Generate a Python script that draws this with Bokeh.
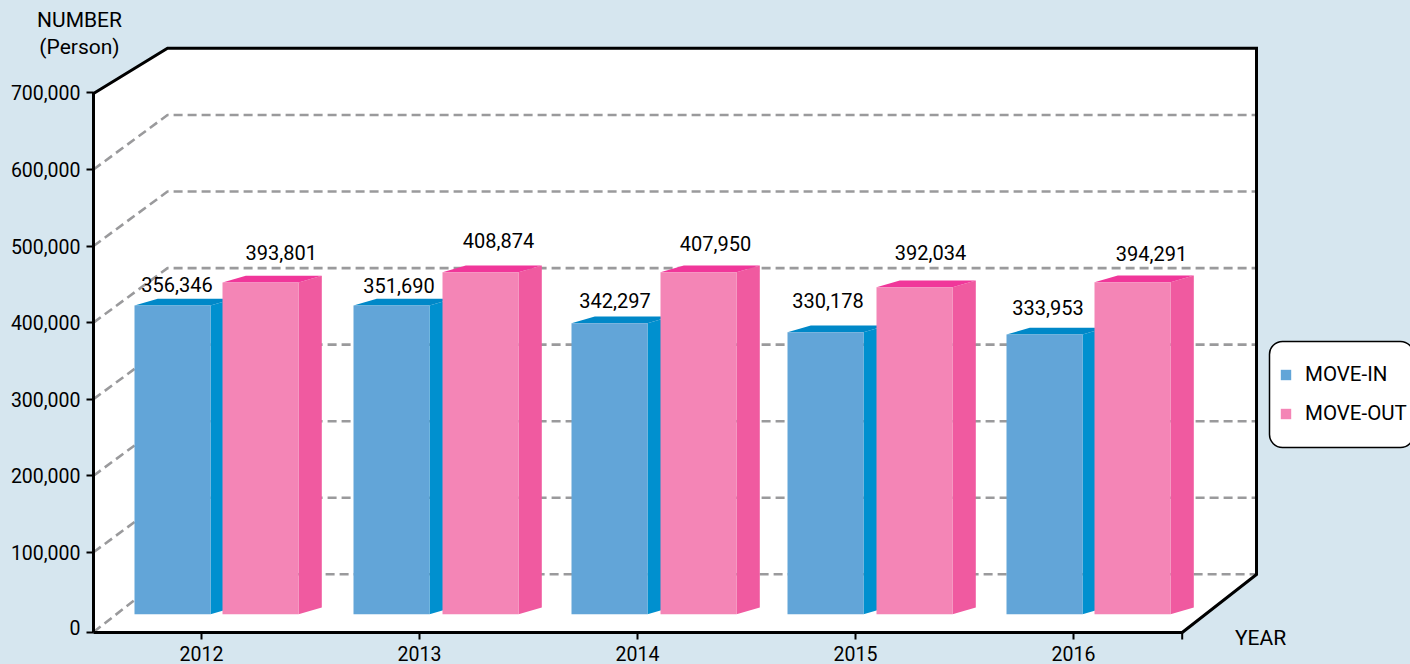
from bokeh.plotting import figure
from bokeh.embed import file_html
from bokeh.resources import INLINE
from bokeh.models import FixedTicker, NumeralTickFormatter, Label, BoxAnnotation, Legend, LegendItem, ColumnDataSource, Range1d
from bokeh.core.properties import value

# ---------- data ----------
years = [2012, 2013, 2014, 2015, 2016]
move_in = [356346, 351690, 342297, 330178, 333953]
move_out = [393801, 408874, 407950, 392034, 394291]
# the source drawing's bars do not follow its labels: heights as read against the axis
move_in_drawn = [422340, 422340, 399220, 387460, 384450]
move_out_drawn = [452380, 465840, 465840, 446240, 452780]
y_ticks = [0, 100000, 200000, 300000, 400000, 500000, 600000, 700000]

# ---------- style / layout ----------
W, H = 1410, 664
FONT = "Roboto"
BG = "#d6e6ef"
BLUE_FRONT, BLUE_SIDE, BLUE_TOP = "#62a5d8", "#0090cf", "#0088c8"
PINK_FRONT, PINK_SIDE, PINK_TOP = "#f485b6", "#f05aa0", "#f0379a"
X_PER_PX = 1 / 218          # one year spans 218 px
Y_PER_PX = 1 / 0.0007655    # axis units for one px
def X(px): return 2012 + (px - 201) * X_PER_PX
def Y(py): return (628.3 - py) * Y_PER_PX

ZERO_TICK = -4300           # the drawing's 0 tick sits on the floor line
DEPTH_X, DEPTH_Y = 74 * X_PER_PX, 54.5 * Y_PER_PX
BAR_W = 76 * X_PER_PX
BAR_DX, BAR_DY = 23.3 * X_PER_PX, 6.8 * Y_PER_PX
BAR_BASE = Y(613.7)
BLUE_OFF, PINK_OFF = -67 * X_PER_PX, 21 * X_PER_PX
blue_nudge = [0, 1, 1, -1, 0]
pink_nudge = [0, 2, 2, 0, 0]
LABEL_SHIFT = 8.5
in_dx = [4.5, 8.5, 6.5, 1.5, 3.5]
in_dy = [12, 11, 13.7, 22.7, 18.3]
out_dx = [20.7, 20, 19, 16, 19]
out_dy = [22, 22.7, 19.7, 26, 19.7]

# the frame fills the page; the axes are pinned inside it with fixed_location
p = figure(width=W, height=H, output_backend="svg", toolbar_location=None,
           x_range=Range1d(X(0), X(W)), y_range=Range1d(Y(H), Y(0)),
           min_border=0,
           background_fill_color=BG, border_fill_color=BG, outline_line_color=None)
p.grid.visible = False

# walls
p.patch([X(93), X(167), X(1256), X(1256), X(1181.7), X(93)],
        [Y(93), Y(47.7), Y(47.7), Y(574), Y(632), Y(632)], fill_color="white", line_color=None)

# dashed grid: front edge -> back corner -> along the back wall
gx, gy = [], []
for t in y_ticks[:-1]:
    front = ZERO_TICK if t == 0 else t
    gx.append([X(93), X(93) + DEPTH_X, X(1256)])
    gy.append([front, t + DEPTH_Y, t + DEPTH_Y])
p.multi_line(gx, gy, line_color="#9a9a9c", line_width=2.6, line_dash="9 5")

# frame
p.line([X(93), X(167), X(1256), X(1256), X(1181.7)],
       [Y(93), Y(47.7), Y(47.7), Y(574), Y(632)],
       line_color="black", line_width=3, line_join="miter")
# short tick under the front right corner
p.line([X(1181.7), X(1181.7)], [Y(632), Y(639)], line_color="black", line_width=2)

def bars(tops, off, nudge, front, side, top):
    fx, fy, sx, sy, tx, ty = [], [], [], [], [], []
    for yr, h, n in zip(years, tops, nudge):
        x0 = yr + off + n * X_PER_PX
        x1 = x0 + BAR_W
        fx.append([x0, x1, x1, x0]); fy.append([BAR_BASE, BAR_BASE, h, h])
        sx.append([x1, x1 + BAR_DX, x1 + BAR_DX, x1])
        sy.append([BAR_BASE, BAR_BASE + BAR_DY, h + BAR_DY, h])
        tx.append([x0, x0 + BAR_DX, x1 + BAR_DX, x1])
        ty.append([h, h + BAR_DY, h + BAR_DY, h])
    p.patches(sx, sy, fill_color=side, line_color=None)
    p.patches(tx, ty, fill_color=top, line_color=None)
    return p.patches(fx, fy, fill_color=front, line_color=None)

r_in = bars(move_in_drawn, BLUE_OFF, blue_nudge, BLUE_FRONT, BLUE_SIDE, BLUE_TOP)
r_out = bars(move_out_drawn, PINK_OFF, pink_nudge, PINK_FRONT, PINK_SIDE, PINK_TOP)

def labels(vals, tops, off, dx, dy):
    src = ColumnDataSource(dict(
        x=[yr + off + BAR_W / 2 for yr in years], y=tops,
        t=[f"{v:,}" for v in vals], xo=dx, yo=[-d - LABEL_SHIFT for d in dy]))
    p.text("x", "y", text="t", source=src, x_offset="xo", y_offset="yo",
           text_align="center", text_baseline="alphabetic", text_color="black",
           text_font=value(FONT), text_font_size="20px")

labels(move_in, move_in_drawn, BLUE_OFF, in_dx, in_dy)
labels(move_out, move_out_drawn, PINK_OFF, out_dx, out_dy)

# axes
ya = p.yaxis[0]
ya.fixed_location = X(93)
ya.ticker = FixedTicker(ticks=[ZERO_TICK] + y_ticks[1:])
ya.formatter = NumeralTickFormatter(format="0,0")
ya.major_label_overrides = {ZERO_TICK: ""}
ya.bounds = (Y(632), 700000)
xa = p.xaxis[0]
xa.fixed_location = Y(632)
xa.ticker = FixedTicker(ticks=years)
xa.bounds = (X(93), X(1181.7))
for a in (xa, ya):
    a.axis_line_color = "black"
    a.axis_line_width = 3
    a.major_tick_line_color = "black"
    a.major_tick_line_width = 2
    a.major_tick_in = 0
    a.major_tick_out = 7
    a.minor_tick_line_color = None
    a.major_label_text_font = FONT
    a.major_label_text_font_size = "19.5px"
    a.major_label_text_color = "black"
xa.major_label_standoff = 6
ya.major_label_standoff = 6

# free texts
for txt, px, py, al, fs in [("NUMBER", 79, 19, "center", "21px"), ("(Person)", 79, 46, "center", "21px"),
                            ("YEAR", 1260, 637, "center", "21px"), ("0", 80, 627, "right", "19.5px")]:
    p.add_layout(Label(x=X(px), y=Y(py), text=txt, text_align=al, text_baseline="alphabetic",
                       text_font=FONT, text_font_size=fs, text_color="black"))

# legend
p.add_layout(BoxAnnotation(left=X(1269), right=X(1413), top=Y(341), bottom=Y(447),
                           fill_color="white", fill_alpha=1, line_color="black", line_width=1.5,
                           line_alpha=1, border_radius=13))
legend = Legend(items=[LegendItem(label="MOVE-IN", renderers=[r_in]),
                       LegendItem(label="MOVE-OUT", renderers=[r_out])],
                location=(1279, 239), orientation="vertical", padding=0, margin=0,
                spacing=15, glyph_width=13, glyph_height=13, label_standoff=13,
                background_fill_alpha=0, border_line_color=None,
                label_text_font=FONT, label_text_font_size="20.5px", label_text_color="black")
p.add_layout(legend, "center")

html = file_html(p, INLINE)
html = html.replace("</head>", f"<style>html,body{{margin:0;padding:0;background:{BG};overflow:hidden}}</style></head>", 1)
open("out.html", "w").write(html)
